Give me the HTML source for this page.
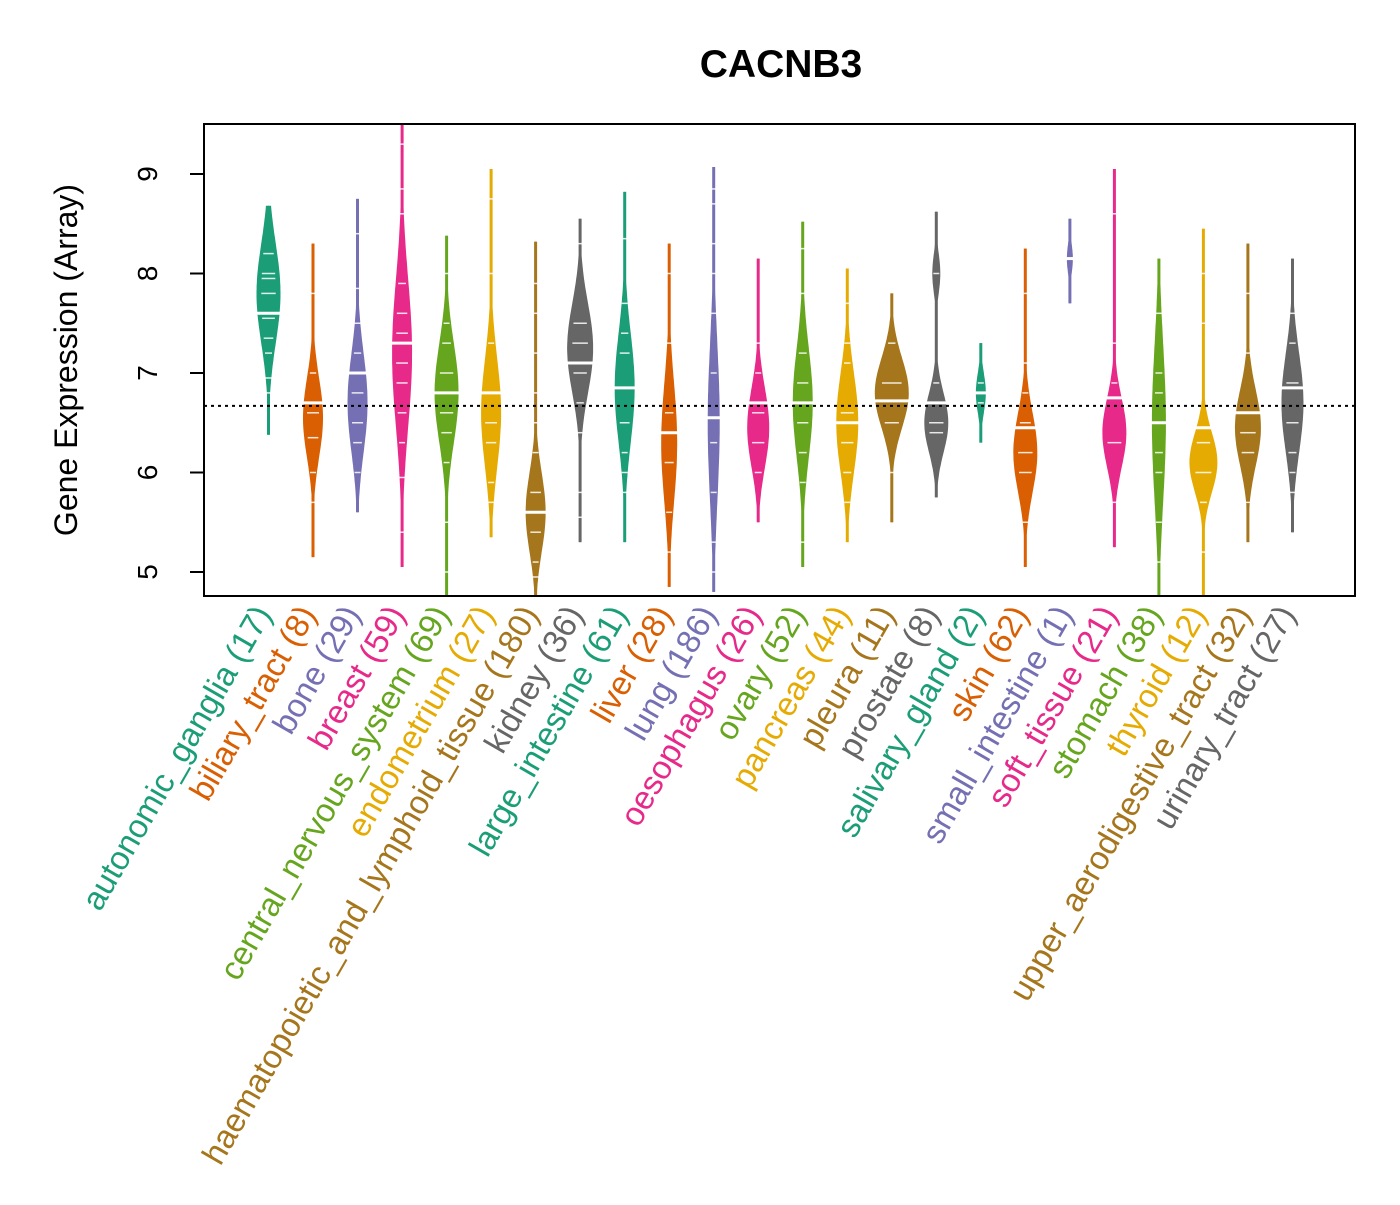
<!DOCTYPE html>
<html><head><meta charset="utf-8"><style>
body{margin:0;background:#fff}
svg text{font-family:"Liberation Sans",sans-serif}
</style></head><body>
<svg id="chart" width="1400" height="1200" xmlns="http://www.w3.org/2000/svg">
<text x="781" y="77" font-size="39" font-weight="bold" text-anchor="middle">CACNB3</text>
<text transform="translate(77,360) rotate(-90)" font-size="32" text-anchor="middle">Gene Expression (Array)</text>
<g id="violins"></g>
<rect x="204" y="124" width="1151" height="472" fill="none" stroke="#000" stroke-width="2"/>
<g id="axis"></g>
<g id="labels"></g>
</svg>
<script>
const categories=["autonomic_ganglia","biliary_tract","bone","breast","central_nervous_system","endometrium","haematopoietic_and_lymphoid_tissue","kidney","large_intestine","liver","lung","oesophagus","ovary","pancreas","pleura","prostate","salivary_gland","skin","small_intestine","soft_tissue","stomach","thyroid","upper_aerodigestive_tract","urinary_tract"];
const counts=[17,8,29,59,69,27,180,36,61,28,186,26,52,44,11,8,2,62,1,21,38,12,32,27];
const minVals=[6.38,5.15,5.6,5.05,4.75,5.35,4.75,5.3,5.3,4.85,4.8,5.5,5.05,5.3,5.5,5.75,6.3,5.05,7.7,5.25,4.75,4.75,5.3,5.4];
const maxVals=[8.68,8.3,8.75,9.5,8.38,9.05,8.32,8.55,8.82,8.3,9.07,8.15,8.52,8.05,7.8,8.62,7.3,8.25,8.55,9.05,8.15,8.45,8.3,8.15];
const modes=[7.8,6.55,6.7,7.2,6.8,6.6,5.6,7.25,6.85,6.3,6.5,6.45,6.7,6.5,6.8,6.5,6.8,6.2,8.15,6.4,6.5,6.1,6.45,6.7];
const spreads=[0.5,0.4,0.5,0.75,0.5,0.55,0.4,0.45,0.55,0.6,0.8,0.4,0.55,0.5,0.35,0.3,0.2,0.4,0.15,0.35,0.8,0.3,0.38,0.5];
const peakWidths=[12,10,10,10,12,10,10,13,10,8,6,11,10,11,17,12,5,12,3,12,7,14,13,11];
const medians=[7.6,6.7,7.0,7.3,6.8,6.8,5.6,7.1,6.85,6.4,6.55,6.7,6.7,6.5,6.72,6.7,6.8,6.45,8.15,6.75,6.5,6.45,6.6,6.85];
const marks=[[8.2,8.0,7.95,7.8,7.55,7.35,7.2,6.95,6.8],[7.8,7.0,6.6,6.35,6.0,5.7],[8.4,7.85,7.5,7.2,6.8,6.5,6.3,6.0],[9.3,8.85,8.6,7.9,7.6,7.4,7.1,6.9,6.6,6.3,5.95,5.4],[8.0,7.5,7.3,7.0,6.6,6.4,6.1,5.5,5.0],[8.75,8.0,7.3,6.8,6.5,6.3,5.9,5.7],[7.9,7.6,7.2,6.8,6.5,6.2,5.8,5.4,5.1,4.95],[8.3,7.5,7.3,7.0,6.7,6.4,5.8,5.55],[8.35,7.7,7.4,7.2,6.5,6.2,6.0,5.8],[8.0,7.3,6.6,6.1,5.6,5.2],[8.85,8.7,8.3,8.0,7.6,7.0,6.3,5.8,5.3,5.0],[7.3,7.0,6.6,6.3,6.0],[8.25,7.8,7.2,6.9,6.5,6.2,5.9,5.3],[7.7,7.3,7.1,6.6,6.3,6.0,5.7],[7.3,6.9,6.5,6.0],[8.0,6.9,6.5,6.4],[6.9,6.7],[7.8,7.1,6.8,6.5,6.2,6.0,5.5],[8.15],[8.6,7.3,6.9,6.3,5.7],[7.6,7.0,6.8,6.5,6.2,6.0,5.5,5.1],[8.0,7.5,6.3,6.0,5.7,5.2],[7.8,7.2,6.6,6.4,6.2,5.7],[7.6,7.3,6.9,6.5,6.2,6.0,5.8]];
const yTicks=[5,6,7,8,9];
const refLine=6.67;
const colors=["#1B9E77","#D95F02","#7570B3","#E7298A","#66A61E","#E6AB02","#A6761D","#666666"];
const NS="http://www.w3.org/2000/svg";
const y=v=>572-(v-5)*99.5;
const x=i=>268.5+i*44.52;
const clampY=v=>Math.max(124,Math.min(596,y(v)));
const vg=document.getElementById('violins');
categories.forEach((c,i)=>{
  const col=colors[i%8],cx=x(i);
  const line=document.createElementNS(NS,'line');
  
  
  line.setAttribute('x1',cx);line.setAttribute('x2',cx);
  line.setAttribute('y1',clampY(maxVals[i]));line.setAttribute('y2',clampY(minVals[i]));
  line.setAttribute('stroke',col);line.setAttribute('stroke-width',2);
  vg.appendChild(line);
  const n=80,L=[],R=[];
  for(let k=0;k<=n;k++){
    const v=minVals[i]+(maxVals[i]-minVals[i])*k/n;
    let w=peakWidths[i]*Math.exp(-0.5*Math.pow((v-modes[i])/spreads[i],2));
    if(i===15) w=Math.max(w,4*Math.exp(-0.5*Math.pow((v-8.0)/0.2,2)));
    w=Math.max(w,1.5);
    const yy=clampY(v);
    L.push((cx-w).toFixed(1)+','+yy.toFixed(1));R.unshift((cx+w).toFixed(1)+','+yy.toFixed(1));
  }
  const p=document.createElementNS(NS,'polygon');
  
  
  p.setAttribute('points',L.concat(R).join(' '));p.setAttribute('fill',col);
  vg.appendChild(p);
  marks[i].forEach(m=>{
    const w=Math.max(3,peakWidths[i]*Math.exp(-0.5*Math.pow((m-modes[i])/spreads[i],2))*0.6);
    const t=document.createElementNS(NS,'line');
    
    
    t.setAttribute('x1',cx-w);t.setAttribute('x2',cx+w);t.setAttribute('y1',y(m));t.setAttribute('y2',y(m));
    t.setAttribute('stroke','#fff');t.setAttribute('stroke-width',1.5);t.setAttribute('opacity',0.85);
    vg.appendChild(t);
  });
  const md=document.createElementNS(NS,'line');
  
  
  const mw=peakWidths[i]*Math.exp(-0.5*Math.pow((medians[i]-modes[i])/spreads[i],2))+2;
  md.setAttribute('x1',cx-mw);md.setAttribute('x2',cx+mw);md.setAttribute('y1',y(medians[i]));md.setAttribute('y2',y(medians[i]));
  md.setAttribute('stroke','#fff');md.setAttribute('stroke-width',3);
  vg.appendChild(md);
  const lab=document.createElementNS(NS,'text');
  
  
  lab.setAttribute('transform','translate('+(cx+4)+',614) rotate(-60)');
  lab.setAttribute('text-anchor','end');lab.setAttribute('font-size','33');lab.setAttribute('fill',col);
  lab.textContent=c+' ('+counts[i]+')';
  document.getElementById('labels').appendChild(lab);
});
const ref=document.createElementNS(NS,'line');


ref.setAttribute('x1',204);ref.setAttribute('x2',1355);ref.setAttribute('y1',y(refLine));ref.setAttribute('y2',y(refLine));
ref.setAttribute('stroke','#000');ref.setAttribute('stroke-width',2);ref.setAttribute('stroke-dasharray','3,4');
vg.appendChild(ref);
const ax=document.getElementById('axis');
yTicks.forEach(t=>{
  const l=document.createElementNS(NS,'line');
  
  
  l.setAttribute('x1',190);l.setAttribute('x2',204);l.setAttribute('y1',y(t));l.setAttribute('y2',y(t));
  l.setAttribute('stroke','#000');l.setAttribute('stroke-width',2);
  ax.appendChild(l);
  const tx=document.createElementNS(NS,'text');
  
  
  tx.setAttribute('transform','translate(157,'+y(t)+') rotate(-90)');
  tx.setAttribute('text-anchor','middle');tx.setAttribute('font-size','28');
  tx.textContent=t;
  ax.appendChild(tx);
});
</script>
</body></html>
